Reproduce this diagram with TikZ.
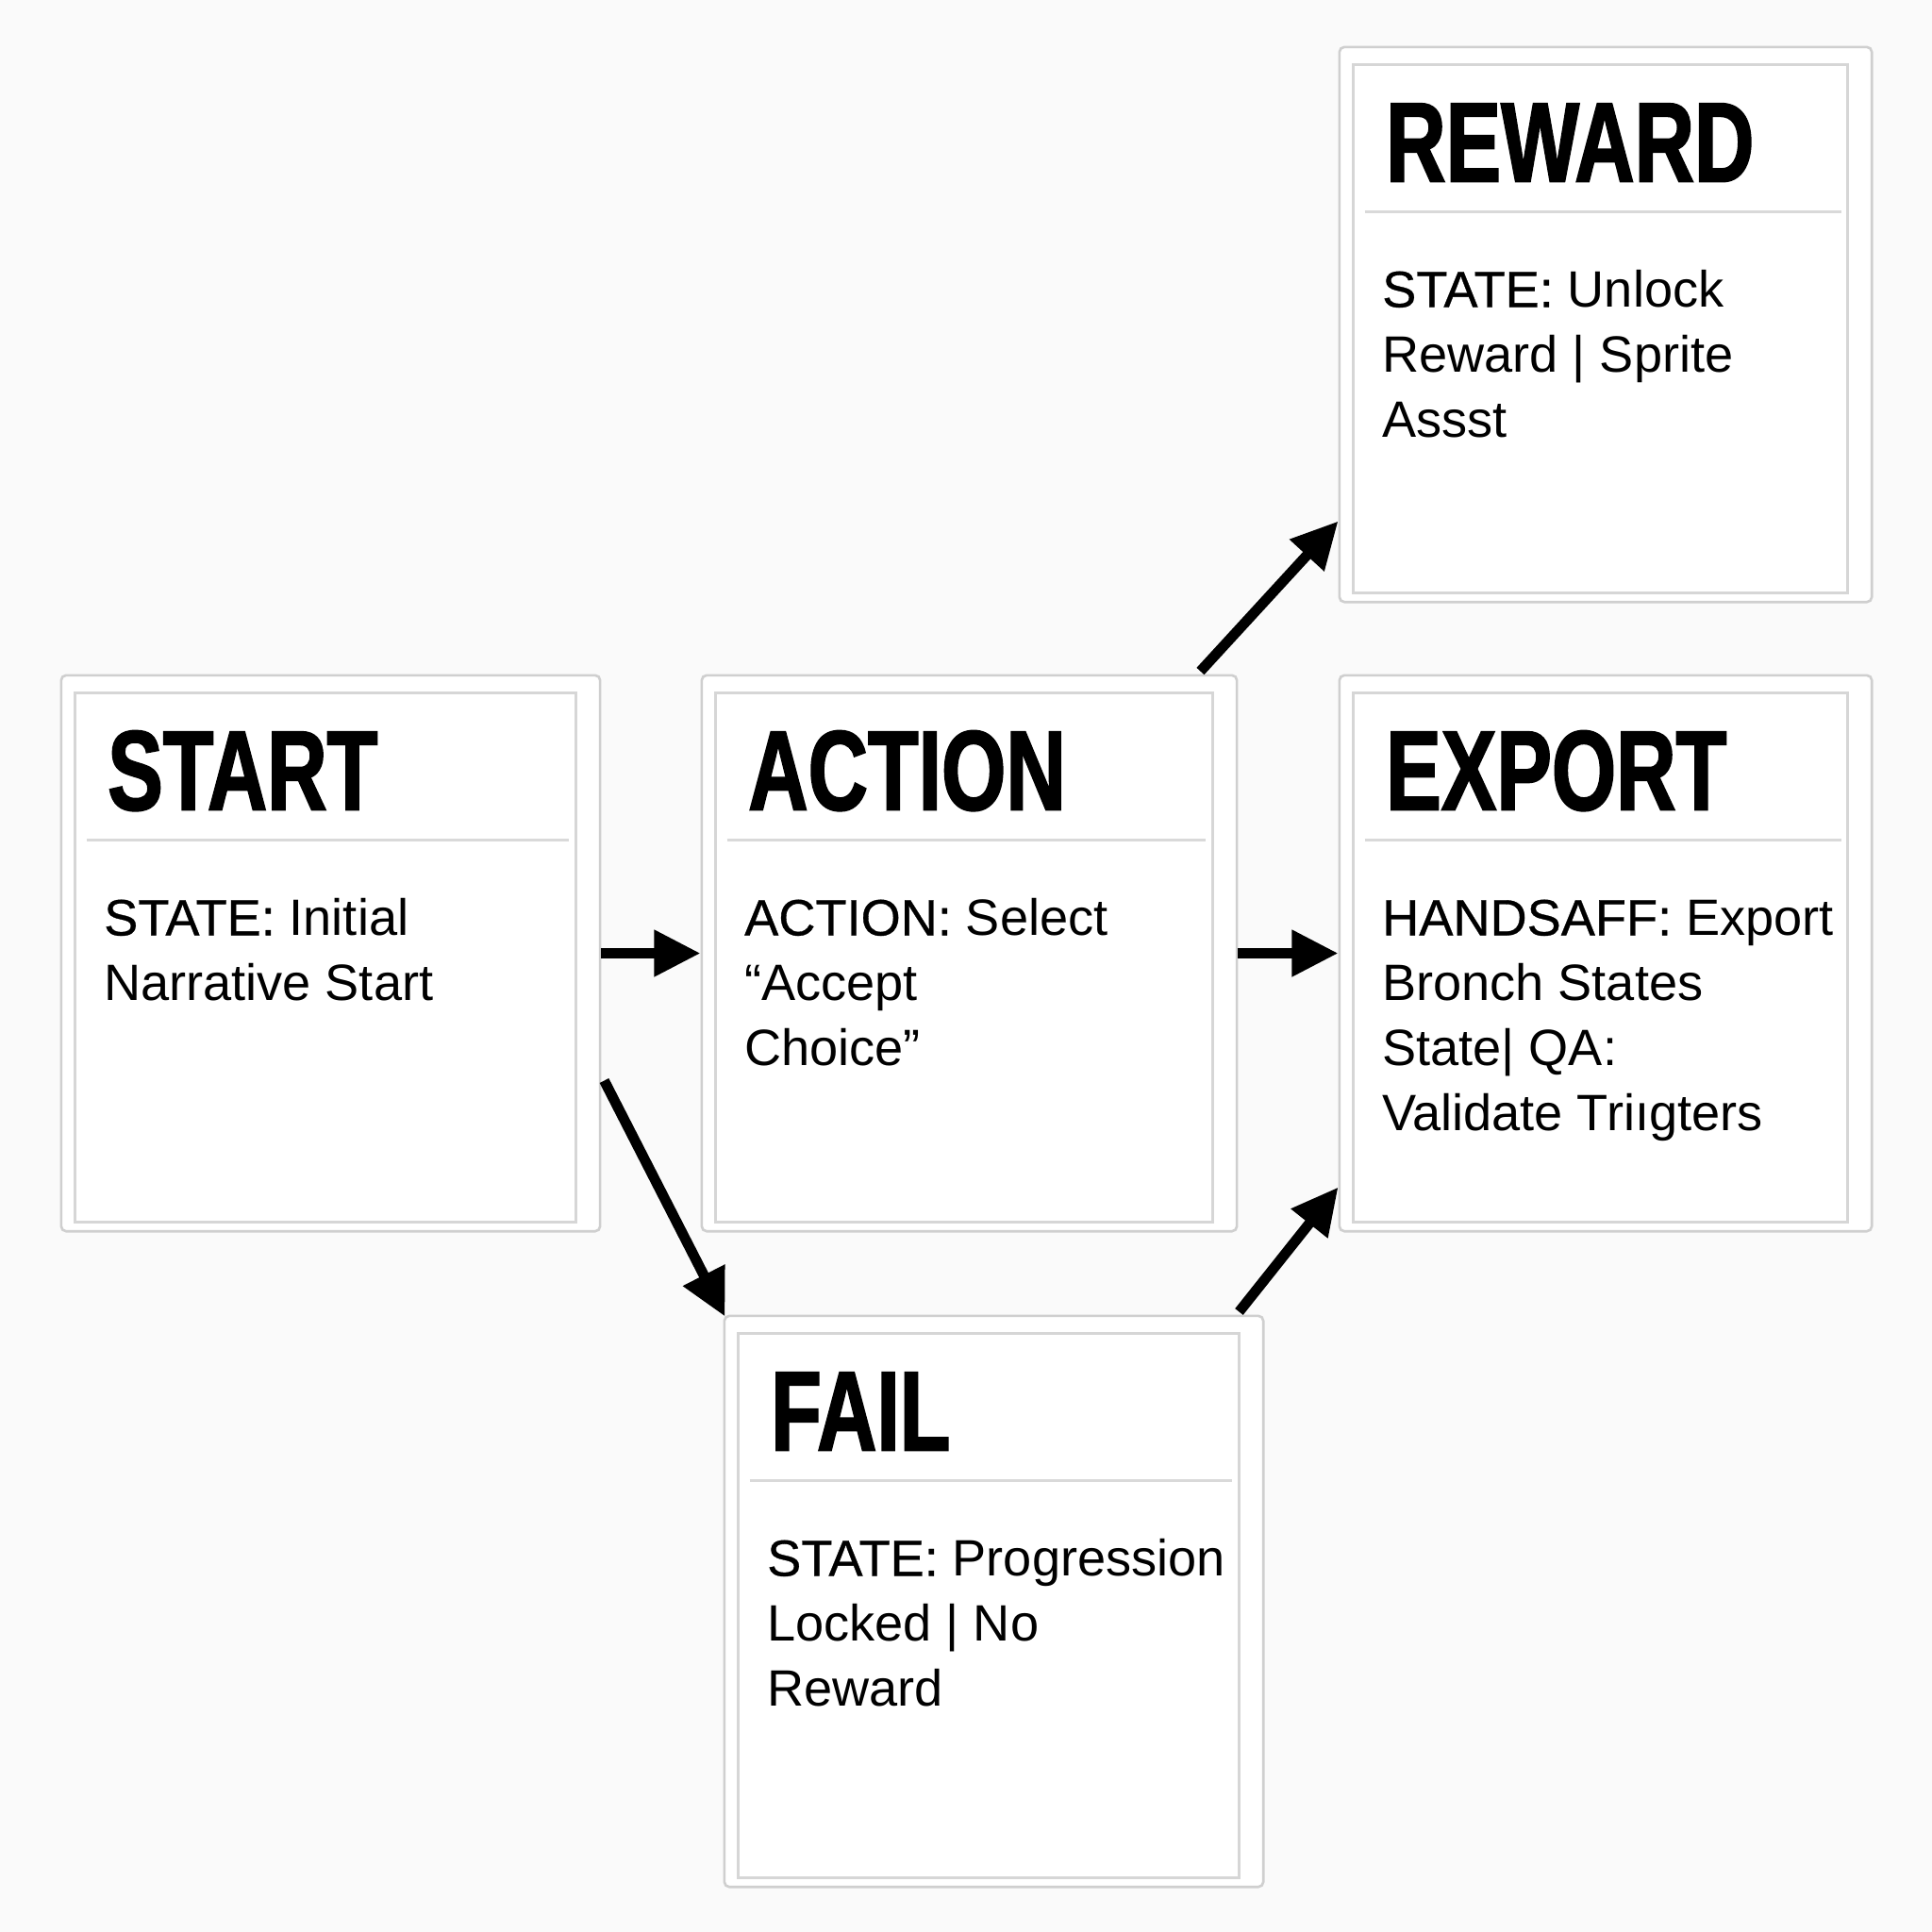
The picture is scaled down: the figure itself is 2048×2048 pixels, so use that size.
\documentclass[tikz,border=0pt]{standalone}
\usepackage{fontspec}
\setmainfont{Liberation Sans}
\newfontfamily\titlefont[FakeStretch=0.73,FakeBold=1.6]{Liberation Sans}
\newfontfamily\labfont[FakeBold=0.6]{Liberation Sans}
\usetikzlibrary{arrows.meta,calc}
\definecolor{bgcol}{HTML}{FAFAFA}
\definecolor{cardline}{HTML}{CFCFCF}
\definecolor{innerline}{HTML}{D6D6D6}
\definecolor{sepcol}{HTML}{D9D9D9}
\tikzset{
  card/.style={draw=cardline, line width=0.75pt, fill=white, rounded corners=1.5pt, inner sep=0pt},
  innerframe/.style={draw=innerline, line width=0.6pt},
  sepline/.style={draw=sepcol, line width=1.1pt},
  titletext/.style={anchor=base west, inner sep=0pt, font=\titlefont\bfseries\fontsize{34.2pt}{40pt}\selectfont},
  bodytext/.style={anchor=base west, inner sep=0pt, font=\fontsize{15.4pt}{19.6pt}\selectfont},
  conn/.style={draw=black, line width=3.1pt, -{Triangle[length=14pt,width=13.4pt]}}
}
\newcommand\bline[1]{\hbox{#1}}
\newcommand\mkcard[7]{%
  \node[card, minimum width=#4cm, minimum height=#5cm] (#1) at (#2,#3) {};
  \draw[innerframe] ($(#1.north west)+(16,20)$) rectangle ($(#1.south east)+(-27,-11)$);
  \draw[sepline] ($(#1.north west)+(28,176)$) -- ($(#1.north east)+(-34,176)$);
  \node[titletext] (#1-title) at ($(#1.north west)+(50,144)$) {#6};
  \node[bodytext] (#1-body) at ($(#1.north west)+(46,277)$) {\vtop{\baselineskip=19.6pt #7}};
}
\begin{document}
\begin{tikzpicture}[x=0.01cm,y=-0.01cm]
\fill[bgcol] (0,0) rectangle (2048,2048);
\useasboundingbox (0,0) rectangle (2048,2048);

\mkcard{start}{350.5}{1010.5}{5.71}{5.89}{START}{\bline{{\labfont STATE:} Initial}\bline{Narrative Start}}
\mkcard{action}{1027.5}{1010.5}{5.67}{5.89}{ACTION}{\bline{{\labfont ACTION:} Select}\bline{“Accept}\bline{Choice”}}
\mkcard{export}{1702}{1010.5}{5.64}{5.89}{EXPORT}{\bline{{\labfont HANDSAFF:} Export}\bline{Bronch States}\bline{State| QA:}\bline{Validate Triıgters}}
\mkcard{reward}{1702}{344}{5.64}{5.88}{REWARD}{\bline{{\labfont STATE:} Unlock}\bline{Reward | Sprite}\bline{Assst}}
\mkcard{fail}{1053.5}{1697.5}{5.71}{6.05}{FAIL}{\bline{{\labfont STATE:} Progression}\bline{Locked | No}\bline{Reward}}

\draw[conn] (start.east) -- (action.west);
\draw[conn] (action.east) -- (export.west);
\draw[conn] ($(action.north east)+(-40,-3)$) -- ($(reward.south west)+(0,-87)$);
\draw[conn] ($(start.east)+(3,135)$) -- ($(fail.north west)+(2,2)$);
\draw[conn] ($(fail.north east)+(-27,-3)$) -- ($(export.south west)+(0,-48)$);
\end{tikzpicture}
\end{document}
